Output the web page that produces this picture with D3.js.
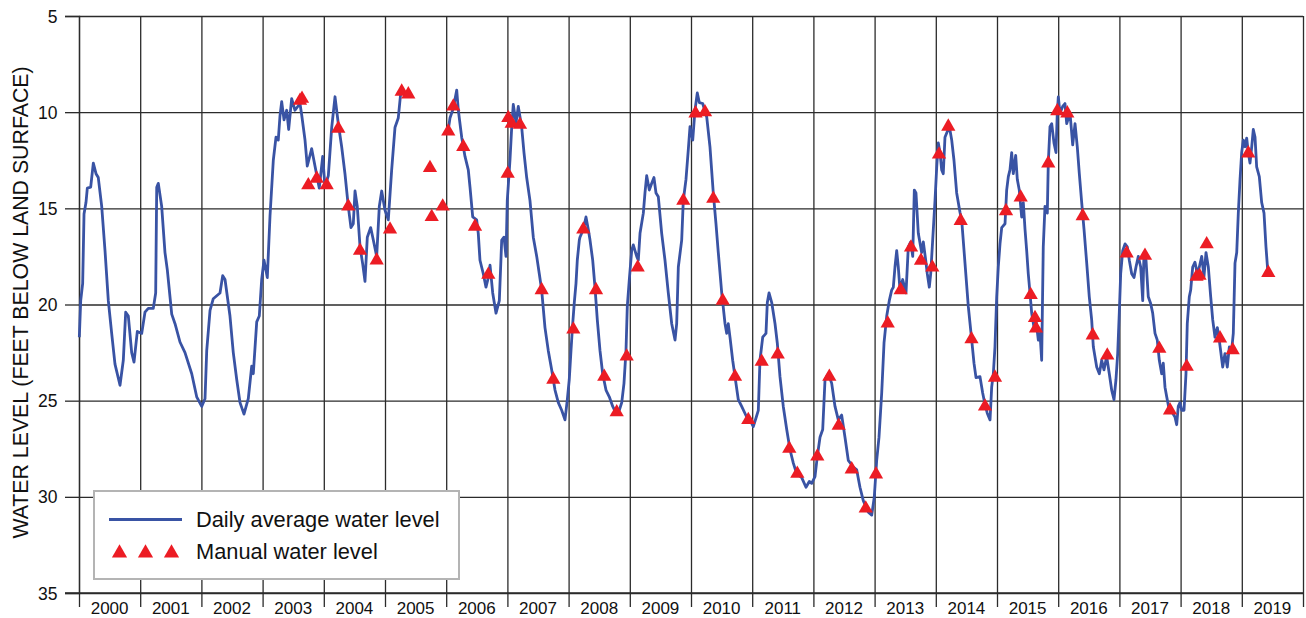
<!DOCTYPE html>
<html><head><meta charset="utf-8">
<script src="https://cdn.jsdelivr.net/npm/d3@7"></script>
<style>
html,body{margin:0;padding:0;background:#fff;}
svg{display:block;font-family:"Liberation Sans",Arial,sans-serif;}
</style></head>
<body><svg id="chart" width="1306" height="618"></svg>
<script>
// ---- data (decimal year, feet below land surface); null = gap in record ----
const yearLabels = ["2000","2001","2002","2003","2004","2005","2006","2007","2008","2009",
  "2010","2011","2012","2013","2014","2015","2016","2017","2018","2019"];
const yTicks = [5,10,15,20,25,30,35];
const seriesNames = ["Daily average water level","Manual water level"];

const daily = [
[2000.005,21.7],[2000.028,19.8],[2000.060,18.9],[2000.082,15.3],[2000.114,14.7],[2000.136,13.95],
[2000.191,13.9],[2000.234,12.65],[2000.278,13.2],[2000.315,13.4],[2000.371,14.9],[2000.425,17.2],
[2000.479,19.8],[2000.534,21.5],[2000.588,23.1],[2000.670,24.2],[2000.724,22.9],[2000.763,20.4],
[2000.806,20.6],[2000.861,22.5],[2000.899,23.0],[2000.953,21.4],[2001.025,21.5],[2001.078,20.4],
[2001.132,20.2],[2001.214,20.2],[2001.253,19.4],[2001.270,13.9],[2001.296,13.7],[2001.351,14.9],
[2001.405,17.3],[2001.443,18.2],[2001.515,20.5],[2001.569,21.0],[2001.650,21.95],[2001.732,22.5],
[2001.842,23.6],[2001.923,24.8],[2002.005,25.3],[2002.059,24.9],[2002.087,22.4],[2002.141,20.3],
[2002.194,19.7],[2002.304,19.4],[2002.348,18.5],[2002.386,18.7],[2002.467,20.6],[2002.521,22.5],
[2002.577,23.9],[2002.631,25.1],[2002.696,25.7],[2002.766,24.9],[2002.822,23.2],[2002.848,23.6],
[2002.904,20.9],[2002.946,20.6],[2002.985,18.7],[2003.023,17.7],[2003.077,18.6],[2003.121,15.4],
[2003.175,12.5],[2003.219,11.3],[2003.256,11.45],[2003.284,10.2],[2003.312,9.45],[2003.350,10.4],
[2003.394,9.9],[2003.426,10.9],[2003.475,9.3],[2003.529,9.9],[2003.611,9.55],[2003.639,10.15],
[2003.693,11.45],[2003.730,12.8],[2003.802,11.9],[2003.856,12.8],[2003.926,13.95],[2003.982,12.3],
[2004.020,13.9],[2004.074,13.3],[2004.129,10.8],[2004.183,9.2],[2004.237,10.6],[2004.292,11.8],
[2004.346,13.2],[2004.400,14.9],[2004.444,16.0],[2004.482,15.8],[2004.510,14.1],[2004.547,14.9],
[2004.592,17.0],[2004.636,17.9],[2004.673,18.8],[2004.711,16.5],[2004.766,16.0],[2004.809,16.65],
[2004.864,17.5],[2004.907,14.9],[2004.946,14.1],[2005.000,15.1],[2005.054,15.6],[2005.109,13.0],
[2005.163,10.8],[2005.217,10.3],[2005.257,9.0],[2005.327,8.95],
null,
[2006.034,10.9],[2006.062,10.3],[2006.116,9.8],[2006.172,8.85],[2006.198,9.9],[2006.253,11.3],
[2006.307,12.3],[2006.361,13.0],[2006.389,13.9],[2006.433,15.45],[2006.498,15.6],[2006.524,16.3],
[2006.552,17.7],[2006.606,18.4],[2006.650,19.1],[2006.688,18.6],[2006.716,17.95],[2006.760,19.4],
[2006.814,20.45],[2006.868,19.8],[2006.907,16.65],[2006.944,16.5],[2006.977,17.5],[2006.998,14.6],
[2007.042,12.5],[2007.070,10.8],[2007.096,9.6],[2007.141,10.55],[2007.178,9.7],[2007.234,10.8],
[2007.271,12.1],[2007.315,13.4],[2007.369,14.6],[2007.423,16.5],[2007.479,17.5],[2007.521,18.4],
[2007.560,19.25],[2007.614,21.2],[2007.668,22.4],[2007.724,23.4],[2007.778,24.45],[2007.832,25.1],
[2007.887,25.5],[2007.941,26.0],[2007.979,24.95],[2008.011,23.9],[2008.039,22.4],[2008.067,21.0],
[2008.093,19.9],[2008.121,18.9],[2008.142,17.7],[2008.175,16.65],[2008.186,16.5],[2008.240,16.1],
[2008.284,15.45],[2008.322,16.1],[2008.350,16.65],[2008.394,17.7],[2008.431,19.1],[2008.469,20.8],
[2008.513,22.4],[2008.557,23.6],[2008.611,24.45],[2008.665,24.8],[2008.721,25.3],[2008.775,25.65],
[2008.828,25.5],[2008.868,25.1],[2008.905,24.1],[2008.938,22.4],[2008.959,20.1],[2008.992,18.7],
[2009.031,17.2],[2009.057,16.9],[2009.113,17.5],[2009.139,17.7],[2009.167,16.3],[2009.221,15.25],
[2009.248,14.2],[2009.276,13.3],[2009.319,14.05],[2009.358,13.7],[2009.395,13.4],[2009.428,14.2],
[2009.466,14.4],[2009.521,16.3],[2009.575,17.7],[2009.629,19.4],[2009.685,21.0],[2009.739,21.85],
[2009.766,21.0],[2009.793,18.05],[2009.848,16.65],[2009.874,14.6],[2009.918,13.5],[2009.956,11.95],
[2009.984,10.75],[2010.028,11.45],[2010.065,9.9],[2010.103,9.0],[2010.136,9.5],[2010.191,9.55],
[2010.257,10.25],[2010.310,11.8],[2010.364,14.2],[2010.408,15.8],[2010.446,17.3],[2010.502,19.4],
[2010.556,21.0],[2010.583,21.5],[2010.609,21.0],[2010.637,21.7],[2010.681,22.9],[2010.719,23.75],
[2010.773,24.95],[2010.828,25.3],[2010.910,25.85],[2010.964,26.0],[2011.018,26.35],[2011.062,25.9],
[2011.100,25.5],[2011.127,22.9],[2011.172,21.7],[2011.225,21.5],[2011.247,19.9],[2011.275,19.4],
[2011.319,19.9],[2011.373,21.0],[2011.410,22.0],[2011.454,23.75],[2011.508,25.3],[2011.564,26.5],
[2011.618,27.55],[2011.672,28.25],[2011.727,28.8],[2011.809,29.0],[2011.879,29.5],[2011.933,29.2],
[2011.972,29.3],[2012.026,28.95],[2012.064,27.9],[2012.108,26.9],[2012.152,26.5],[2012.190,23.9],
[2012.244,23.6],[2012.299,24.1],[2012.353,25.3],[2012.407,26.0],[2012.462,25.75],[2012.516,26.9],
[2012.570,28.1],[2012.652,28.45],[2012.708,28.6],[2012.761,29.5],[2012.815,30.2],[2012.897,30.8],
[2012.953,30.95],[2012.995,30.0],[2013.034,28.1],[2013.072,26.9],[2013.116,24.6],[2013.154,22.0],
[2013.198,20.6],[2013.240,19.8],[2013.279,19.25],[2013.306,19.1],[2013.333,18.05],[2013.361,17.2],
[2013.387,18.05],[2013.415,19.25],[2013.459,18.7],[2013.513,19.4],[2013.551,17.0],[2013.590,16.75],
[2013.623,17.5],[2013.649,14.05],[2013.676,14.2],[2013.714,16.3],[2013.769,17.3],[2013.796,16.75],
[2013.835,17.7],[2013.861,18.4],[2013.894,19.1],[2013.917,18.4],[2013.949,16.65],[2013.987,14.6],
[2014.015,12.85],[2014.041,11.6],[2014.069,12.1],[2014.096,13.0],[2014.122,13.2],[2014.150,11.3],
[2014.188,11.0],[2014.221,10.75],[2014.260,11.45],[2014.297,12.5],[2014.341,14.2],[2014.395,15.2],
[2014.423,15.6],[2014.477,17.85],[2014.531,20.1],[2014.587,21.85],[2014.624,23.05],[2014.657,23.8],
[2014.722,23.75],[2014.766,24.6],[2014.804,25.2],[2014.841,25.65],[2014.886,26.0],[2014.913,24.3],
[2014.940,23.6],[2014.967,22.2],[2014.995,19.6],[2015.021,18.05],[2015.049,16.85],[2015.077,16.0],
[2015.131,15.8],[2015.158,14.05],[2015.185,13.35],[2015.212,13.0],[2015.240,12.1],[2015.266,13.2],
[2015.305,12.25],[2015.332,13.5],[2015.364,14.05],[2015.403,15.45],[2015.430,14.7],[2015.458,16.1],
[2015.485,17.2],[2015.511,18.4],[2015.539,19.4],[2015.567,20.45],[2015.605,21.2],[2015.637,20.8],
[2015.675,21.85],[2015.703,21.5],[2015.730,22.9],[2015.756,17.0],[2015.784,14.9],[2015.822,15.25],
[2015.838,12.65],[2015.866,10.75],[2015.894,10.6],[2015.931,11.6],[2015.964,12.1],[2015.985,10.05],
[2016.002,9.2],[2016.029,10.05],[2016.073,9.7],[2016.111,9.55],[2016.139,10.6],[2016.193,10.05],
[2016.237,11.7],[2016.275,10.6],[2016.312,11.8],[2016.345,13.2],[2016.384,14.7],[2016.422,16.1],
[2016.466,17.85],[2016.508,19.6],[2016.547,20.8],[2016.574,22.2],[2016.629,23.25],[2016.672,23.6],
[2016.711,22.9],[2016.748,23.4],[2016.792,22.7],[2016.835,23.6],[2016.874,24.45],[2016.912,24.95],
[2016.944,23.9],[2016.972,22.55],[2016.998,20.45],[2017.021,18.4],[2017.054,17.2],[2017.092,16.85],
[2017.129,17.0],[2017.162,17.7],[2017.201,18.4],[2017.239,18.6],[2017.271,18.05],[2017.309,17.5],
[2017.348,18.05],[2017.381,19.8],[2017.402,17.3],[2017.435,17.7],[2017.472,19.6],[2017.511,19.95],
[2017.544,20.45],[2017.582,21.5],[2017.619,21.85],[2017.652,22.9],[2017.691,23.6],[2017.717,23.05],
[2017.745,24.3],[2017.773,24.8],[2017.815,25.5],[2017.871,25.65],[2017.908,25.85],[2017.936,26.25],
[2017.962,25.3],[2017.990,25.1],[2018.018,25.5],[2018.056,25.5],[2018.088,23.6],[2018.109,21.0],
[2018.142,19.6],[2018.165,19.25],[2018.198,18.05],[2018.235,17.8],[2018.273,18.4],[2018.306,18.05],
[2018.345,17.5],[2018.382,18.55],[2018.415,17.3],[2018.453,18.05],[2018.492,19.6],[2018.525,20.8],
[2018.562,21.7],[2018.600,21.2],[2018.632,21.85],[2018.688,23.25],[2018.725,22.55],[2018.763,23.25],
[2018.796,22.2],[2018.835,22.35],[2018.861,21.5],[2018.889,17.85],[2018.917,17.3],[2018.943,15.25],
[2018.971,13.5],[2018.998,12.1],[2019.025,11.45],[2019.052,11.8],[2019.080,11.35],[2019.106,12.1],
[2019.134,12.65],[2019.162,11.8],[2019.188,10.9],[2019.216,11.3],[2019.243,12.85],[2019.286,13.35],
[2019.325,14.7],[2019.363,15.25],[2019.395,17.0],[2019.423,18.2]
];

const manual = [
[2003.611,9.4],[2003.644,9.3],[2003.747,13.8],[2003.884,13.45],[2004.047,13.8],[2004.237,10.85],
[2004.400,14.9],[2004.592,17.2],[2004.864,17.7],[2005.082,16.1],[2005.273,8.93],[2005.381,9.07],
[2005.735,12.9],[2005.763,15.45],[2005.943,14.9],[2006.034,11.0],[2006.116,9.7],[2006.279,11.8],
[2006.471,15.95],[2006.688,18.45],[2007.005,13.2],[2007.015,10.3],[2007.070,10.6],[2007.206,10.65],
[2007.560,19.25],[2007.750,23.9],[2008.077,21.3],[2008.240,16.1],[2008.448,19.25],[2008.583,23.75],
[2008.786,25.6],[2008.949,22.7],[2009.129,18.07],[2009.874,14.6],[2010.074,10.06],[2010.229,10.0],
[2010.364,14.5],[2010.518,19.8],[2010.719,23.75],[2010.936,26.0],[2011.155,22.97],[2011.417,22.6],
[2011.606,27.5],[2011.737,28.8],[2012.064,27.9],[2012.260,23.75],[2012.413,26.3],[2012.626,28.57],
[2012.855,30.6],[2013.023,28.83],[2013.214,20.98],[2013.426,19.25],[2013.595,17.03],[2013.758,17.72],
[2013.943,18.07],[2014.052,12.2],[2014.204,10.75],[2014.407,15.65],[2014.583,21.8],[2014.804,25.3],
[2014.967,23.8],[2015.147,15.14],[2015.387,14.43],[2015.551,19.5],[2015.621,20.7],[2015.637,21.24],
[2015.838,12.66],[2015.985,9.94],[2016.149,10.06],[2016.400,15.4],[2016.564,21.6],[2016.802,22.65],
[2017.119,17.34],[2017.418,17.46],[2017.652,22.3],[2017.827,25.5],[2018.100,23.23],[2018.260,18.55],
[2018.309,18.5],[2018.426,16.86],[2018.644,21.76],[2018.851,22.37],[2019.106,12.14],[2019.433,18.35]
];

// ---- drawing ----
const svg = d3.select("#chart");
const L = 79, R = 1303, T = 16, B = 593;
const x = d3.scaleLinear().domain([2000, 2020]).range([L, R]);
const y = d3.scaleLinear().domain([5, 35]).range([T, B]);
const gridColor = "#2b2b2b";
const lineColor = "#3953a4";
const triColor = "#ec1c24";

const yearStarts = d3.range(2000, 2021);

// vertical grid lines per year
const gx = svg.append("g").attr("transform", `translate(0,${B})`)
  .call(d3.axisBottom(x).tickValues(yearStarts).tickSize(-(B - T)).tickFormat(""));
gx.select(".domain").remove();
gx.selectAll("line").attr("stroke", gridColor).attr("stroke-width", 1.3);

// x ticks below axis
const gxt = svg.append("g").attr("transform", `translate(0,${B})`)
  .call(d3.axisBottom(x).tickValues(yearStarts).tickSize(14).tickFormat(""));
gxt.select(".domain").remove();
gxt.selectAll("line").attr("stroke", gridColor).attr("stroke-width", 1.3);

// horizontal grid
const gy = svg.append("g").attr("transform", `translate(${L},0)`)
  .call(d3.axisLeft(y).tickValues(yTicks).tickSize(-(R - L)).tickFormat(""));
gy.select(".domain").remove();
gy.selectAll("line").attr("stroke", gridColor).attr("stroke-width", 1.3);

// y ticks + labels
const gyt = svg.append("g").attr("transform", `translate(${L},0)`)
  .call(d3.axisLeft(y).tickValues(yTicks).tickSize(14).tickFormat(d3.format("d")));
gyt.select(".domain").attr("stroke", gridColor).attr("stroke-width", 1.3);
gyt.selectAll("line").attr("stroke", gridColor).attr("stroke-width", 1.3);
gyt.selectAll("text").attr("font-size", 17.5).attr("fill", "#111")
  .attr("font-family", "Liberation Sans, Arial, sans-serif").attr("dy", "0.35em").attr("x", -21.5);

// bottom axis line extending to left tick
svg.append("line").attr("x1", L - 14).attr("x2", R).attr("y1", B).attr("y2", B)
  .attr("stroke", gridColor).attr("stroke-width", 1.5);

// year labels centered in each year
svg.append("g").selectAll("text").data(yearLabels).join("text")
  .attr("x", d => x(+d + 0.5)).attr("y", 613.5)
  .attr("text-anchor", "middle").attr("font-size", 17).attr("fill", "#111")
  .text(d => d);

// y-axis title
svg.append("text")
  .attr("transform", `translate(28,${(T + B) / 2 - 2}) rotate(-90)`)
  .attr("text-anchor", "middle").attr("font-size", 21.3).attr("fill", "#111")
  .text("WATER LEVEL (FEET BELOW LAND SURFACE)");

// daily line
const line = d3.line().defined(d => d !== null)
  .x(d => x(d[0])).y(d => y(d[1]));
svg.append("path").datum(daily).attr("d", line)
  .attr("fill", "none").attr("stroke", lineColor).attr("stroke-width", 2.8)
  .attr("stroke-linejoin", "round");

// manual triangles
const tri = d3.symbol().type(d3.symbolTriangle).size(88);
svg.append("g").selectAll("path").data(manual).join("path")
  .attr("d", tri).attr("transform", d => `translate(${x(d[0])},${y(d[1])})`)
  .attr("fill", triColor);

// legend
const lg = svg.append("g");
lg.append("rect").attr("x", 94).attr("y", 491).attr("width", 365).attr("height", 88)
  .attr("fill", "#fff").attr("stroke", "#b4b4b4").attr("stroke-width", 2);
lg.append("line").attr("x1", 109).attr("x2", 182).attr("y1", 519.5).attr("y2", 519.5)
  .attr("stroke", lineColor).attr("stroke-width", 2.8);
lg.append("text").attr("x", 196).attr("y", 527).attr("font-size", 21.8).attr("fill", "#111")
  .text(seriesNames[0]);
const triL = d3.symbol().type(d3.symbolTriangle).size(100);
lg.selectAll("path.lt").data([119.5, 145.5, 171.5]).join("path").attr("class", "lt")
  .attr("d", triL).attr("transform", d => `translate(${d},553)`).attr("fill", triColor);
lg.append("text").attr("x", 196).attr("y", 559).attr("font-size", 21.8).attr("fill", "#111")
  .text(seriesNames[1]);
</script></body></html>
